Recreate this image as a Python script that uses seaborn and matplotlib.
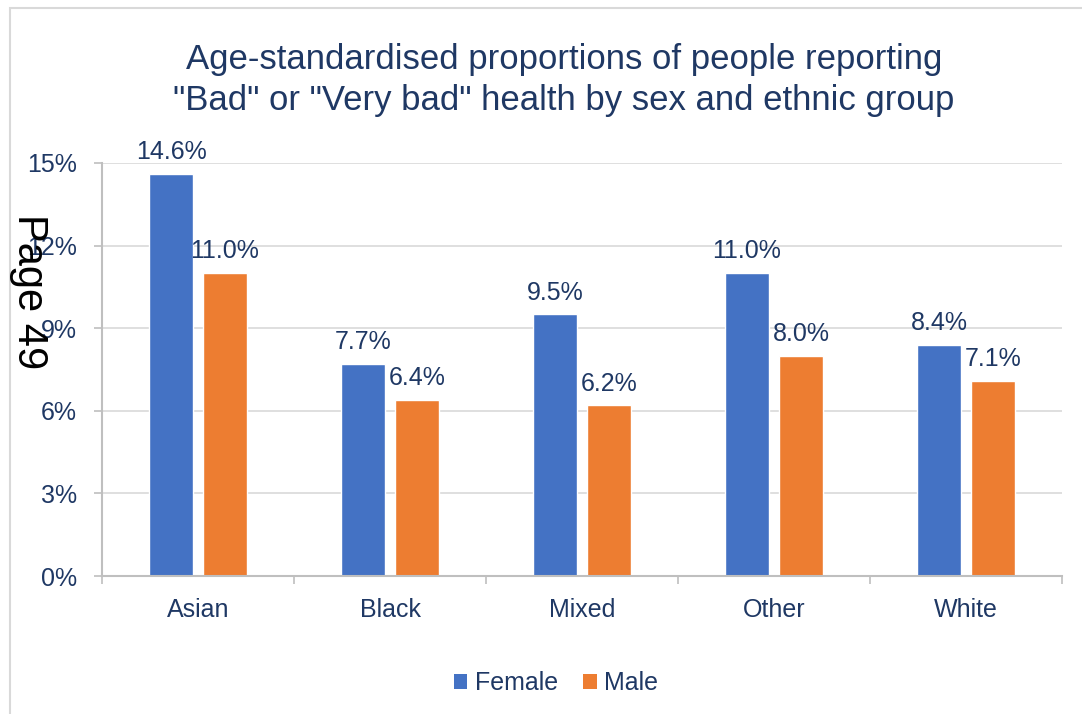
import matplotlib
matplotlib.use("Agg")
import matplotlib.pyplot as plt
from matplotlib.patches import Rectangle
from matplotlib.ticker import FixedLocator, FuncFormatter
import seaborn as sns
import pandas as pd

groups = ["Asian", "Black", "Mixed", "Other", "White"]
female = [14.6, 7.7, 9.5, 11.0, 8.4]
male = [11.0, 6.4, 6.2, 8.0, 7.1]
sexes = ["Female", "Male"]
colors = ["#4472C4", "#ED7D31"]
yticks = [0, 3, 6, 9, 12, 15]

text_color = "#1F3864"
axis_gray = "#BFBFBF"
grid_gray = "#D9D9D9"

df = pd.DataFrame({
    "group": groups * 2,
    "sex": [sexes[0]] * len(groups) + [sexes[1]] * len(groups),
    "value": female + male,
})

sns.set_theme(style="white")
plt.rcParams["font.family"] = ["Liberation Sans", "DejaVu Sans"]

fig = plt.figure(figsize=(10.82, 7.14), dpi=100)
ax = fig.add_axes([102 / 1082, 1 - 576 / 714, 960 / 1082, 413 / 714])

sns.barplot(data=df, x="group", y="value", hue="sex", order=groups,
            hue_order=sexes, palette=colors, width=0.5625, gap=0.2,
            saturation=1, ax=ax, legend=False)

for container in ax.containers:
    ax.bar_label(container, labels=[f"{v:.1f}%" for v in container.datavalues],
                 padding=7, fontsize=18, color=text_color)

ax.set_ylim(0, 15)
ax.set_xlim(-0.5, len(groups) - 0.5)
ax.yaxis.set_major_locator(FixedLocator(yticks))
ax.yaxis.set_major_formatter(FuncFormatter(lambda v, p: f"{v:.0f}%"))
ax.set_xlabel("")
ax.set_ylabel("")

ax.grid(axis="y", color=grid_gray, linewidth=1.2)
ax.set_axisbelow(True)
for side in ["top", "right"]:
    ax.spines[side].set_visible(False)
for side in ["left", "bottom"]:
    ax.spines[side].set_color(axis_gray)
    ax.spines[side].set_linewidth(1.5)

ax.tick_params(axis="y", which="major", length=6, width=1.2, color=axis_gray,
               direction="out", labelsize=18, labelcolor=text_color, pad=12, left=True)
ax.tick_params(axis="x", which="major", length=0, labelsize=18,
               labelcolor=text_color, pad=16, bottom=True)
ax.xaxis.set_minor_locator(FixedLocator([i - 0.5 for i in range(len(groups) + 1)]))
ax.tick_params(axis="x", which="minor", length=6, width=1.2, color=axis_gray,
               direction="out", bottom=True)

handles = [Rectangle((0, 0), 1, 1, facecolor=c, edgecolor="none") for c in colors]
fig.legend(handles, sexes, loc="center", bbox_to_anchor=(556 / 1082, 1 - 683 / 714),
           ncol=2, frameon=False, fontsize=18, labelcolor=text_color,
           handlelength=0.55, handleheight=0.55, handletextpad=0.3, columnspacing=1.0)

fig.text(564 / 1082, 1 - 80 / 714,
         "Age-standardised proportions of people reporting\n"
         "\"Bad\" or \"Very bad\" health by sex and ethnic group",
         ha="center", va="center", fontsize=25, color=text_color, linespacing=1.3)

fig.text(29 / 1082, 1 - 292 / 714, "Page 49", rotation=270, ha="center", va="center",
         fontsize=30, color="black")

fig.patches.append(Rectangle((10 / 1082, -0.1), 1.2, 1 - 8 / 714 + 0.1,
                             transform=fig.transFigure, fill=False,
                             edgecolor=grid_gray, linewidth=1.5, zorder=0))

fig.savefig("out.png", dpi=100)
